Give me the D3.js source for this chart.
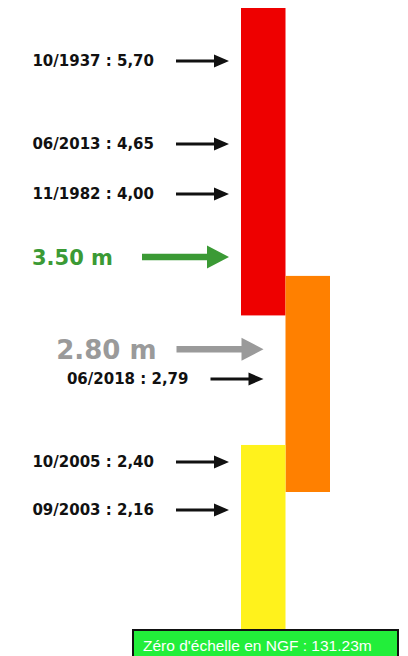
<!DOCTYPE html>
<html>
<head>
<meta charset="utf-8">
<script src="https://cdn.jsdelivr.net/npm/d3@7"></script>
<style>
  body { margin: 0; background: #fff; }
</style>
</head>
<body>
<div id="chart"></div>
<script>
// vigilance bands, in metres at the gauge
var bandNames = ["rouge", "orange", "jaune"];
var bandColumns = ["gauche", "droite", "gauche"];
var bandLow = [3.16, 2.25, 0];
var bandHigh = [6.37, 3.39, 2.48];

// historic floods
var recordDates = ["10/1937", "06/2013", "11/1982", "06/2018", "10/2005", "09/2003"];
var recordValues = [5.70, 4.65, 4.00, 2.79, 2.40, 2.16];

// thresholds
var thresholdLabels = ["3.50 m", "2.80 m"];
var thresholdValues = [3.50, 2.80];

var zeroLabel = "Zéro d'échelle en NGF : 131.23m";

var width = 408,
    height = 656;

var bandColor = { rouge: "#ee0000", orange: "#ff8000", jaune: "#fff21c" };
var thresholdColor = ["#3b9a35", "#9a9a9a"];
var thresholdSize = [21, 26];
var thresholdGap = [29, 20];
var thresholdNudge = [0, -28]; // 2.80 is lifted so it does not sit on the 2,79 label

var svg = d3.select("#chart").append("svg")
    .attr("width", width)
    .attr("height", height);

svg.append("rect")
    .attr("width", width)
    .attr("height", height)
    .attr("fill", "#fff");

// the drawing is not to scale, so the scale is piecewise
var y = d3.scaleLinear()
    .domain([0, 2.16, 2.40, 2.79, 3.50, 4.00, 4.65, 5.70, 6.37])
    .range([655, 510, 462, 379, 257, 194, 144, 61, 8]);

var x = d3.scaleBand()
    .domain(["gauche", "droite"])
    .range([241, 330])
    .padding(0);

// which column an arrow points at
function targetColumn(v) {
    var inLeft = bandNames.some(function(n, i) {
        return bandColumns[i] === "gauche" && v >= bandLow[i] && v <= bandHigh[i];
    });
    return inLeft ? "gauche" : "droite";
}

function tipX(col) {
    return x(col) - (col === "gauche" ? 12 : 22);
}

function arrow(x0, x1, yy, shaft, headLen, headH) {
    var p = d3.path();
    p.moveTo(x0, yy - shaft / 2);
    p.lineTo(x1 - headLen, yy - shaft / 2);
    p.lineTo(x1 - headLen, yy - headH / 2);
    p.lineTo(x1, yy);
    p.lineTo(x1 - headLen, yy + headH / 2);
    p.lineTo(x1 - headLen, yy + shaft / 2);
    p.lineTo(x0, yy + shaft / 2);
    p.closePath();
    return p.toString();
}

// bars
svg.selectAll(".band")
    .data(bandNames)
    .enter().append("rect")
    .attr("class", "band")
    .attr("x", function(d, i) { return x(bandColumns[i]); })
    .attr("width", x.bandwidth())
    .attr("y", function(d, i) { return y(bandHigh[i]); })
    .attr("height", function(d, i) { return y(bandLow[i]) - y(bandHigh[i]); })
    .attr("fill", function(d) { return bandColor[d]; });

// historic floods, black arrows
var rec = svg.selectAll(".record")
    .data(recordDates)
    .enter().append("g")
    .attr("class", "record");

rec.append("path")
    .attr("d", function(d, i) {
        var t = tipX(targetColumn(recordValues[i]));
        return arrow(t - 53, t, y(recordValues[i]), 3, 15, 13);
    })
    .attr("fill", "#111");

rec.append("text")
    .attr("x", function(d, i) { return tipX(targetColumn(recordValues[i])) - 75; })
    .attr("y", function(d, i) { return y(recordValues[i]); })
    .attr("dy", "0.36em")
    .attr("text-anchor", "end")
    .style("font-family", "'DejaVu Sans', Verdana, sans-serif")
    .style("font-weight", "bold")
    .style("font-size", "15px")
    .attr("fill", "#111")
    .text(function(d, i) {
        return d + " : " + d3.format(".2f")(recordValues[i]).replace(".", ",");
    });

// thresholds, big coloured arrows
var thr = svg.selectAll(".threshold")
    .data(thresholdLabels)
    .enter().append("g")
    .attr("class", "threshold");

thr.append("path")
    .attr("d", function(d, i) {
        var t = tipX(targetColumn(thresholdValues[i]));
        return arrow(t - 87, t, y(thresholdValues[i]) + thresholdNudge[i], 6.5, 22, 23);
    })
    .attr("fill", function(d, i) { return thresholdColor[i]; });

thr.append("text")
    .attr("x", function(d, i) { return tipX(targetColumn(thresholdValues[i])) - 87 - thresholdGap[i]; })
    .attr("y", function(d, i) { return y(thresholdValues[i]) + thresholdNudge[i]; })
    .attr("dy", "0.36em")
    .attr("text-anchor", "end")
    .style("font-family", "'DejaVu Sans', Verdana, sans-serif")
    .style("font-weight", "bold")
    .style("font-size", function(d, i) { return thresholdSize[i] + "px"; })
    .attr("fill", function(d, i) { return thresholdColor[i]; })
    .text(String);

// zero of the gauge
svg.append("rect")
    .attr("x", 133)
    .attr("y", 630)
    .attr("width", 265)
    .attr("height", 34)
    .attr("fill", "#22ee3a")
    .attr("stroke", "#111")
    .attr("stroke-width", 2);

svg.append("text")
    .attr("x", 143)
    .attr("y", 651)
    .style("font-family", "'Liberation Sans', Arial, sans-serif")
    .style("font-size", "15.5px")
    .attr("fill", "#fff")
    .text(zeroLabel);
</script>
</body>
</html>
